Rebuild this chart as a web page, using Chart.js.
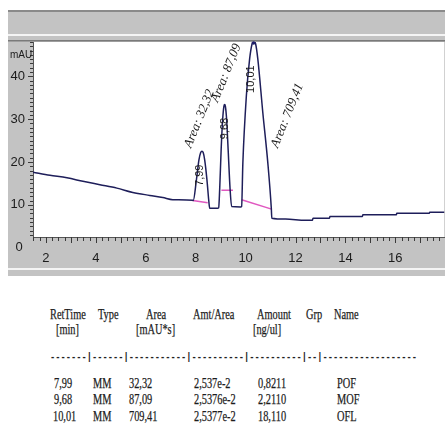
<!DOCTYPE html>
<html>
<head>
<meta charset="utf-8">
<script src="https://cdn.jsdelivr.net/npm/chart.js@4.4.1/dist/chart.umd.min.js"></script>
<style>
  html, body { margin: 0; padding: 0; background: #fff; }
  body { width: 445px; height: 444px; position: relative; overflow: hidden; }
  #plot { position: absolute; left: 8px; top: 10px; width: 437px; height: 266px; }
  .cell {
    position: absolute; white-space: pre; color: #1c1c1c;
    font: 15px 'Liberation Serif', serif; line-height: 16px;
    -webkit-text-stroke: 0.25px #1c1c1c;
    transform: scaleX(0.69); transform-origin: left center;
  }
  .rule {
    position: absolute; white-space: pre; color: #222;
    font: bold 10.5px 'Liberation Mono', monospace; line-height: 10px;
    transform: scaleX(0.832); transform-origin: left center;
  }
</style>
</head>
<body>
<div id="plot"><canvas id="chrom"></canvas></div>
<div id="report"></div>

<script>
// detector trace, retention time (min) vs signal (mAU)
const timeMin = [
  1.48, 2.16, 2.84, 3.48, 4.16, 4.84, 5.48, 6.16, 6.68, 7.08, 7.88,
  7.90, 8.03, 8.13, 8.20, 8.25, 8.30, 8.36, 8.45, 8.53, 8.56, 8.88,
  8.92, 8.96, 9.02, 9.08, 9.13, 9.16, 9.19, 9.24, 9.30, 9.38, 9.44, 9.80,
  9.84, 9.89, 10.03, 10.16, 10.26, 10.32, 10.40, 10.49, 10.69, 10.89, 11.03, 11.05,
  11.60, 12.40, 12.68, 12.70, 13.36, 13.38, 14.68, 14.70, 16.04, 16.06, 17.36, 17.38, 18.0
];
const signalMAU = [
  17.6, 16.9, 16.3, 15.5, 14.7, 13.9, 12.9, 12.2, 11.7, 11.2, 11.1,
  11.0, 15.9, 20.5, 22.2, 22.5, 22.2, 20.5, 15.9, 10.6, 9.2, 9.2,
  9.3, 13.5, 22.9, 29.9, 33.0, 33.4, 33.0, 29.9, 22.9, 13.5, 9.6, 9.5,
  9.6, 19.8, 35.4, 44.0, 47.6, 48.2, 47.6, 44.0, 31.5, 19.8, 9.2, 6.9,
  6.7, 6.4, 6.4, 6.9, 6.9, 7.3, 7.3, 7.7, 7.7, 8.05, 8.05, 8.3, 8.3
];

// integration baselines under each peak
const baseStartT = [7.88, 9.03, 9.84];
const baseEndT = [8.48, 9.49, 11.04];
const baseStartV = [11.0, 13.4, 11.2];
const baseEndV = [10.5, 13.4, 9.0];

// peak apex (for the annotations)
const apexT = [8.25, 9.16, 10.32];
const apexV = [22.5, 33.4, 48.2];

// report table
const retTimes = [7.99, 9.68, 10.01];
const peakTypes = ['MM', 'MM', 'MM'];
const areas = [32.32, 87.09, 709.41];
const amtPerArea = ['2,537e-2', '2,5376e-2', '2,5377e-2'];
const amounts = ['0,8211', '2,2110', '18,110'];
const compounds = ['POF', 'MOF', 'OFL'];

const yTickLabels = [0, 10, 20, 30, 40];

const comma = (v, d) => v.toFixed(d).replace('.', ',');

const trace = timeMin.map((t, i) => ({ x: t, y: signalMAU[i] }));
const baselineSets = baseStartT.map((t, i) => ({
  data: [{ x: t, y: baseStartV[i] }, { x: baseEndT[i], y: baseEndV[i] }],
  borderColor: '#e058c0',
  borderWidth: 1.5,
  pointRadius: 0,
  tension: 0
}));

const narrow = "'Liberation Sans Narrow', 'Liberation Sans', Arial, sans-serif";

// gray ChemStation-style frame around the white plot area
const framePlugin = {
  id: 'frame',
  beforeDraw(chart) {
    const { ctx, chartArea: a, width, height } = chart;
    ctx.save();
    ctx.fillStyle = '#c3c3c3';
    ctx.fillRect(0, 0, width, height);
    ctx.fillStyle = '#8a8a8a';
    ctx.fillRect(0, 0, width, 2);
    ctx.fillStyle = '#f4f4f4';
    ctx.fillRect(0, 24, width, 2);
    ctx.fillStyle = '#7a7a7a';
    ctx.fillRect(0, a.top - 2, width, 1.5);
    ctx.fillStyle = '#f4f4f4';
    ctx.fillRect(0, height - 8, width, 2);
    ctx.fillStyle = '#ffffff';
    ctx.fillRect(a.left, a.top, a.right - a.left, a.bottom - a.top);
    ctx.restore();
  },
  afterDraw(chart) {
    const { ctx, chartArea: a } = chart;
    const xs = chart.scales.x, ys = chart.scales.y;
    ctx.save();

    // tick marks: every 0.25 min / 1 mAU, longer on labelled values
    ctx.strokeStyle = '#3a3a3a';
    ctx.lineWidth = 1;
    ctx.beginPath();
    xs.ticks.forEach(t => {
      const px = Math.round(xs.getPixelForValue(t.value)) + 0.5;
      const major = Math.abs(t.value - Math.round(t.value)) < 1e-6;
      ctx.moveTo(px, a.bottom);
      ctx.lineTo(px, a.bottom + (major ? 6 : 4));
    });
    ys.ticks.forEach(t => {
      const py = Math.round(ys.getPixelForValue(t.value)) + 0.5;
      const major = Math.round(t.value) % 10 === 0;
      ctx.moveTo(a.left, py);
      ctx.lineTo(a.left - (major ? 5 : 3), py);
    });
    ctx.stroke();

    ctx.fillStyle = '#1c1c1c';
    // y labels, including the 0 that sits below the axis
    ctx.font = '13px ' + narrow;
    ctx.textBaseline = 'middle';
    yTickLabels.forEach(v => {
      const py = ys.getPixelForValue(v);
      if (v === 0) {
        ctx.textAlign = 'center';
        ctx.fillText('0', 11, py);
      } else {
        ctx.textAlign = 'right';
        ctx.fillText(String(v), 17, py);
      }
    });
    ctx.font = '10px ' + narrow;
    ctx.textAlign = 'left';
    ctx.fillText('mAU', 2, 45);

    // retention time written up inside each peak
    const rtOffset = [[-2, 24], [0, 24], [-3, 38]];
    // area annotation next to each peak
    const areaOffset = [[-14, -4], [-10, -3], [21, 106]];
    apexT.forEach((t, i) => {
      const px = xs.getPixelForValue(t);
      const py = ys.getPixelForValue(apexV[i]);

      ctx.save();
      ctx.translate(px + rtOffset[i][0], py + rtOffset[i][1]);
      ctx.rotate(-Math.PI / 2);
      ctx.font = '11px ' + narrow;
      ctx.textAlign = 'center';
      ctx.textBaseline = 'middle';
      ctx.fillText(comma(retTimes[i], 2), 0, 0);
      ctx.restore();

      ctx.save();
      ctx.translate(px + areaOffset[i][0], py + areaOffset[i][1]);
      ctx.rotate(-68 * Math.PI / 180);
      ctx.font = "italic 13px 'Liberation Serif', serif";
      ctx.textAlign = 'left';
      ctx.textBaseline = 'middle';
      ctx.fillText('Area: ' + comma(areas[i], 2), 0, 0);
      ctx.restore();
    });

    // apex marker of the main peak
    ctx.fillStyle = '#1e1e6a';
    ctx.beginPath();
    ctx.arc(xs.getPixelForValue(apexT[2]), a.top + 1, 1.8, 0, Math.PI * 2);
    ctx.fill();
    ctx.restore();
  }
};

new Chart(document.getElementById('chrom'), {
  type: 'line',
  data: {
    datasets: [
      {
        data: trace,
        borderColor: '#1e1e5a',
        borderWidth: 1.5,
        pointRadius: 0,
        cubicInterpolationMode: 'monotone'
      },
      ...baselineSets
    ]
  },
  options: {
    responsive: true,
    maintainAspectRatio: false,
    animation: false,
    layout: { padding: { top: 32, right: 0, left: 0, bottom: 0 } },
    plugins: { legend: { display: false }, tooltip: { enabled: false } },
    scales: {
      x: {
        type: 'linear',
        min: 1.48,
        max: 17.96,
        afterFit(scale) { scale.height = 39; },
        border: { color: '#555', width: 1 },
        grid: { display: false },
        ticks: {
          stepSize: 0.25,
          includeBounds: false,
          autoSkip: false,
          maxRotation: 0,
          padding: 6,
          color: '#1c1c1c',
          font: { family: narrow, size: 13 },
          callback: v => {
            const r = Math.round(v);
            return Math.abs(v - r) < 1e-6 && r % 2 === 0 ? String(r) : '';
          }
        }
      },
      y: {
        min: 2.5,
        max: 48,
        afterFit(scale) { scale.width = 25; },
        border: { color: '#555', width: 1 },
        grid: { display: false },
        ticks: {
          stepSize: 1,
          includeBounds: false,
          autoSkip: false,
          color: 'rgba(0,0,0,0)',
          font: { size: 1 },
          callback: () => ''
        }
      }
    }
  },
  plugins: [framePlugin]
});

// integration report below the chromatogram
const report = document.getElementById('report');
function put(text, left, centerY, cls) {
  const el = document.createElement('div');
  el.className = cls || 'cell';
  el.textContent = text;
  el.style.left = left + 'px';
  el.style.top = (centerY - (cls === 'rule' ? 5 : 8)) + 'px';
  report.appendChild(el);
}
[['RetTime', 50], ['Type', 98], ['Area', 146], ['Amt/Area', 193],
 ['Amount', 257], ['Grp', 306], ['Name', 334]].forEach(([s, x]) => put(s, x, 314));
[['[min]', 56], ['[mAU*s]', 136], ['[ng/ul]', 253]].forEach(([s, x]) => put(s, x, 329));
put('-------|------|-----------|----------|----------|--|------------------', 50, 357, 'rule');

const rowY = [383, 399, 416];
retTimes.forEach((rt, i) => {
  put(comma(rt, 2), rt >= 10 ? 53 : 54, rowY[i]);
  put(peakTypes[i], 93, rowY[i]);
  put(comma(areas[i], 2), 129, rowY[i]);
  put(amtPerArea[i], 194, rowY[i]);
  put(amounts[i], 258, rowY[i]);
  put(compounds[i], 337, rowY[i]);
});
</script>
</body>
</html>
